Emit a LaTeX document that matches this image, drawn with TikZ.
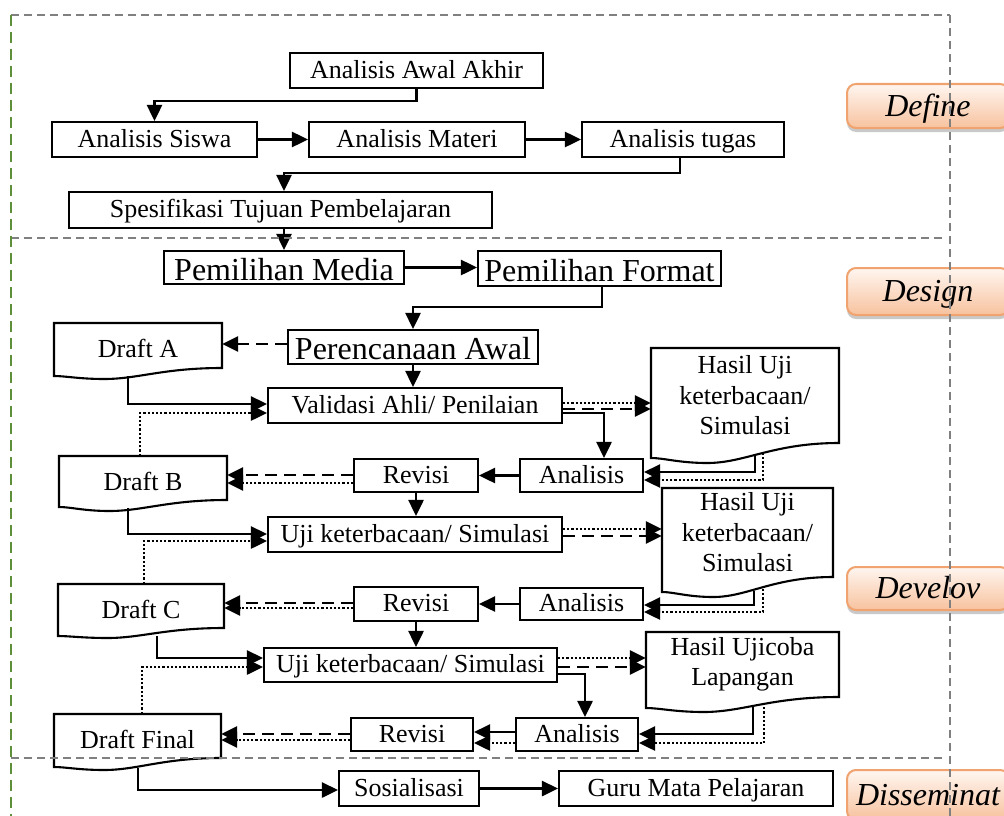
\documentclass[tikz,border=0pt]{standalone}
\usepackage{fontspec}
\setmainfont{Liberation Serif}
\usetikzlibrary{arrows.meta,shadows}
\definecolor{framegray}{HTML}{808080}
\definecolor{framegreen}{HTML}{5E8F3A}
\definecolor{lblborder}{HTML}{F0A36E}
\definecolor{lbltop}{HTML}{FFF6F0}
\definecolor{lblbot}{HTML}{F7C29E}
\newcommand{\mydocshape}[6]{\draw[boxline] (#1,#2) -- (#3,#2) -- (#3,#6) .. controls ({#3-0.35*(#3-#1)},#6) and ({#1+0.5*(#3-#1)},#5) .. ({#1+0.3*(#3-#1)},#5) .. controls ({#1+0.15*(#3-#1)},#5) and ({#1+0.07*(#3-#1)},#4) .. (#1,#4) -- cycle;}
\tikzset{
 boxline/.style={draw=black, line width=2.1pt, fill=white},
 sbox/.style={boxline, inner sep=0pt, font=\fontsize{26}{30.5}\selectfont, text height=20pt, text depth=5pt},
 bbox/.style={boxline, inner sep=0pt, font=\fontsize{32}{36}\selectfont, text height=25pt, text depth=0pt},
 docnode/.style={inner sep=0pt, font=\fontsize{26}{30.5}\selectfont, align=center},
 conn/.style={line width=2.7pt, -{Triangle[length=16pt,width=15pt]}},
 dsh/.style={conn, dash pattern=on 12pt off 7pt},
 dtt/.style={conn, dash pattern=on 2.2pt off 2pt},
 framel/.style={draw=framegray, line width=1.7pt, dash pattern=on 8pt off 5pt},
 greenl/.style={draw=framegreen, line width=2.2pt, dash pattern=on 11pt off 6pt},
 phase/.style={draw=lblborder, line width=2pt, rounded corners=9pt, top color=lbltop, bottom color=lblbot, minimum width=162pt, inner sep=0pt, font=\fontsize{32}{36}\selectfont\itshape, text height=20pt, text depth=0pt, drop shadow={shadow xshift=0pt, shadow yshift=-4pt, opacity=0.35, fill=black!60}},
}
\begin{document}
\begin{tikzpicture}[x=1pt,y=-1pt]
\useasboundingbox (0,0) rectangle (1004,816);
\fill[white] (0,0) rectangle (1004,816);

% Define
\node[sbox, minimum width=253pt, minimum height=35pt] (AAA) at (416.5,70.5) {Analisis Awal Akhir};
\node[sbox, minimum width=205pt, minimum height=35pt] (AS) at (154.5,139.5) {Analisis Siswa};
\node[sbox, minimum width=216pt, minimum height=35pt] (AM) at (417,139.5) {Analisis Materi};
\node[sbox, minimum width=202pt, minimum height=35pt] (AT) at (683,139.5) {Analisis tugas};
\node[sbox, minimum width=423pt, minimum height=36pt] (STP) at (280.5,210) {Spesifikasi Tujuan Pembelajaran};

% Design
\node[bbox, minimum width=240pt, minimum height=33pt] (PM) at (284,267.5) {Pemilihan Media};
\node[bbox, minimum width=243pt, minimum height=35pt] (PF) at (599.5,268.5) {Pemilihan Format};
\node[bbox, minimum width=250pt, minimum height=34pt] (PA) at (413,347) {Perencanaan Awal};

% Develop boxes
\node[sbox, minimum width=294pt, minimum height=35pt] (VA) at (415,405.5) {Validasi Ahli/ Penilaian};
\node[sbox, minimum width=123pt, minimum height=33pt] (AN1) at (581.5,475.5) {Analisis};
\node[sbox, minimum width=124pt, minimum height=33pt] (RV1) at (416,475.5) {Revisi};
\node[sbox, minimum width=294pt, minimum height=35pt] (UJ1) at (415,534.5) {Uji keterbacaan/ Simulasi};
\node[sbox, minimum width=123pt, minimum height=32pt] (AN2) at (581.5,604) {Analisis};
\node[sbox, minimum width=124pt, minimum height=34pt] (RV2) at (416,604) {Revisi};
\node[sbox, minimum width=293pt, minimum height=34pt] (UJ2) at (410.5,665) {Uji keterbacaan/ Simulasi};
\node[sbox, minimum width=122pt, minimum height=33pt] (AN3) at (577,734.5) {Analisis};
\node[sbox, minimum width=122pt, minimum height=33pt] (RV3) at (412,734.5) {Revisi};
\node[sbox, minimum width=140pt, minimum height=35pt] (SOS) at (409,788.5) {Sosialisasi};
\node[sbox, minimum width=274pt, minimum height=35pt] (GMP) at (696,788.5) {Guru Mata Pelajaran};

% document shapes
\mydocshape{54}{323}{222}{376}{379}{368}
\mydocshape{59}{456}{227}{507}{511}{500}
\mydocshape{58}{584}{224}{636}{638}{628}
\mydocshape{54}{714}{221}{767}{770}{758}
\mydocshape{651}{348}{839}{458}{463}{443}
\mydocshape{662}{488}{833}{592}{597}{577}
\mydocshape{646}{632}{839}{708}{712}{697}
\node[docnode, minimum width=168pt, minimum height=45pt, text height=24pt, text depth=0pt] (DA) at (138,345.5) {Draft A};
\node[docnode, minimum width=168pt, minimum height=44pt, text height=24pt, text depth=0pt] (DB) at (143,478) {Draft B};
\node[docnode, minimum width=166pt, minimum height=44pt, text height=24pt, text depth=0pt] (DC) at (141,606) {Draft C};
\node[docnode, minimum width=167pt, minimum height=44pt, text height=24pt, text depth=0pt] (DF) at (137.5,736) {Draft Final};
\node[docnode, minimum width=188pt, minimum height=95pt] (H1) at (745,395.5) {Hasil Uji\\keterbacaan/\\Simulasi};
\node[docnode, minimum width=171pt, minimum height=89pt] (H2) at (747.5,532.5) {Hasil Uji\\keterbacaan/\\Simulasi};
\node[docnode, minimum width=193pt, minimum height=65pt] (H3) at (742.5,664.5) {Hasil Ujicoba\\Lapangan};

% connectors: define
\draw[conn] (AAA.south) -- ++(0,12) -| (AS.north);
\draw[conn] (AS.east) -- (AM.west);
\draw[conn] (AM.east) -- (AT.west);
\draw[conn] ([xshift=-3pt]AT.south) -- ++(0,15) -| ([xshift=3.5pt]STP.north);
\draw[conn] ([xshift=3.5pt]STP.south) -- (PM.north);
% design
\draw[conn] (PM.east) -- (PM.east -| PF.west);
\draw[conn] ([xshift=2.5pt]PF.south) -- ++(0,20) -| (PA.north);
\draw[dsh] ([yshift=3pt]PA.west) -- ([yshift=3pt]PA.west -| DA.east);
\draw[conn] (PA.south) -- (PA.south |- VA.north);
% round 1
\coordinate (DAo) at (128,376);
\draw[conn] (DAo) |- ([yshift=1.5pt]VA.west);
\draw[dtt] ([xshift=-3pt]DB.north) |- ([yshift=-7.5pt]VA.west);
\draw[dtt] ([yshift=2.5pt]VA.east) -- ([yshift=2.5pt]VA.east -| H1.west);
\draw[dsh] ([yshift=-3.5pt]VA.east) -- ([yshift=-3.5pt]VA.east -| H1.west);
\draw[conn] ([yshift=-7.5pt]VA.east) -| ([xshift=22.5pt]AN1.north);
\coordinate (H1a) at (755,455);
\coordinate (H1b) at (763,453);
\draw[conn] (H1a) |- ([yshift=3.5pt]AN1.east);
\draw[dtt] (H1b) |- ([yshift=-4.5pt]AN1.east);
\draw[conn] (AN1.west) -- (AN1.west -| RV1.east);
\draw[dsh] ([yshift=0.5pt]RV1.west) -- ([yshift=0.5pt]RV1.west -| DB.east);
\draw[dtt] ([yshift=-7.5pt]RV1.west) -- ([yshift=-7.5pt]RV1.west -| DB.east);
\draw[conn] (RV1.south) -- (RV1.south |- UJ1.north);
% round 2
\coordinate (DBo) at (128,508);
\draw[conn] (DBo) |- ([yshift=0.5pt]UJ1.west);
\draw[dtt] ([xshift=3pt]DC.north) |- ([yshift=-6.5pt]UJ1.west);
\draw[dtt] ([yshift=5.5pt]UJ1.east) -- ([yshift=5.5pt]UJ1.east -| H2.west);
\draw[dsh] ([yshift=-1.5pt]UJ1.east) -- ([yshift=-1.5pt]UJ1.east -| H2.west);
\coordinate (H2a) at (754,591);
\coordinate (H2b) at (763,589);
\draw[conn] (H2a) |- ([yshift=-1pt]AN2.east);
\draw[dtt] (H2b) |- ([yshift=-8pt]AN2.east);
\draw[conn] (AN2.west) -- (AN2.west -| RV2.east);
\draw[dsh] ([yshift=1pt]RV2.west) -- ([yshift=1pt]RV2.west -| DC.east);
\draw[dtt] ([yshift=-4pt]RV2.west) -- ([yshift=-4pt]RV2.west -| DC.east);
\draw[conn] (RV2.south) -- (RV2.south |- UJ2.north);
% round 3
\coordinate (DCo) at (157,636);
\draw[conn] (DCo) |- ([yshift=7pt]UJ2.west);
\draw[dtt] ([xshift=4.5pt]DF.north) |- ([yshift=-2pt]UJ2.west);
\draw[dtt] ([yshift=7pt]UJ2.east) -- ([yshift=7pt]UJ2.east -| H3.west);
\draw[dsh] ([yshift=-2pt]UJ2.east) -- ([yshift=-2pt]UJ2.east -| H3.west);
\draw[conn] ([yshift=-9pt]UJ2.east) -| ([xshift=8pt]AN3.north);
\coordinate (H3a) at (753,706);
\coordinate (H3b) at (764,703);
\draw[conn] (H3a) |- ([yshift=0.5pt]AN3.east);
\draw[dtt] (H3b) |- ([yshift=-8.5pt]AN3.east);
\draw[conn] ([yshift=2.5pt]AN3.west) -- ([yshift=2.5pt]AN3.west -| RV3.east);
\draw[dtt] ([yshift=-8.5pt]AN3.west) -- ([yshift=-8.5pt]AN3.west -| RV3.east);
\draw[dsh] ([yshift=0.5pt]RV3.west) -- ([yshift=0.5pt]RV3.west -| DF.east);
\draw[dtt] ([yshift=-5.5pt]RV3.west) -- ([yshift=-5.5pt]RV3.west -| DF.east);
% disseminate
\coordinate (DFo) at (138,768);
\draw[conn] (DFo) |- ([yshift=-1.5pt]SOS.west);
\draw[conn] (SOS.east) -- (SOS.east -| GMP.west);

% phase labels
\node[phase, minimum height=44pt] (LDef) at (928,106) {Define};
\node[phase, minimum height=47pt] (LDes) at (928,291.5) {Design};
\node[phase, minimum height=43pt] (LDev) at (928,588.5) {Develov};
\node[phase, minimum height=50pt] (LDis) at (928,795) {Disseminat};

% frame
\draw[framel] (11,15) -- (950,15);
\draw[framel] (950,15) -- (950,816);
\draw[framel] (11,238) -- (943,238);
\draw[framel] (11,758) -- (943,758);
\draw[greenl] (11,15) -- (11,816);
\end{tikzpicture}
\end{document}
